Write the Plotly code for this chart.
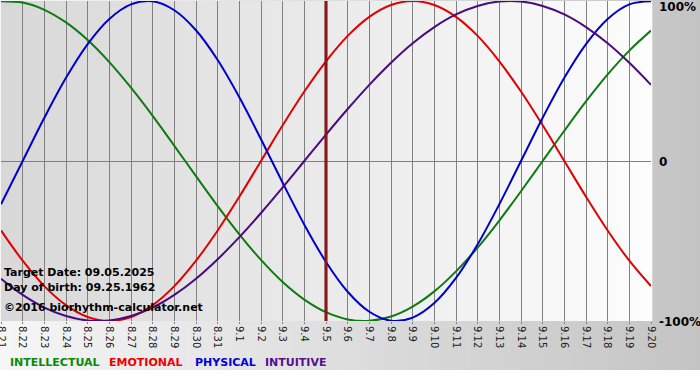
import plotly.graph_objects as go

days = ["8.21", "8.22", "8.23", "8.24", "8.25", "8.26", "8.27", "8.28", "8.29", "8.30",
        "8.31", "9.1", "9.2", "9.3", "9.4", "9.5", "9.6", "9.7", "9.8", "9.9",
        "9.10", "9.11", "9.12", "9.13", "9.14", "9.15", "9.16", "9.17", "9.18", "9.19", "9.20"]

physical = [-0.270, 0.000, 0.270, 0.520, 0.731, 0.888, 0.979, 0.998, 0.942, 0.817,
            0.631, 0.398, 0.136, -0.136, -0.398, -0.631, -0.817, -0.942, -0.998, -0.979,
            -0.888, -0.731, -0.520, -0.270, 0.000, 0.270, 0.520, 0.731, 0.888, 0.979, 0.998]

emotional = [-0.434, -0.623, -0.782, -0.901, -0.975, -1.000, -0.975, -0.901, -0.782, -0.623,
             -0.434, -0.223, 0.000, 0.223, 0.434, 0.623, 0.782, 0.901, 0.975, 1.000,
             0.975, 0.901, 0.782, 0.623, 0.434, 0.223, 0.000, -0.223, -0.434, -0.623, -0.782]

intellectual = [0.999, 0.990, 0.945, 0.866, 0.756, 0.618, 0.458, 0.282, 0.095, -0.095,
                -0.282, -0.458, -0.618, -0.756, -0.866, -0.945, -0.990, -0.999, -0.972, -0.910,
                -0.815, -0.690, -0.541, -0.372, -0.189, 0.000, 0.189, 0.372, 0.541, 0.690, 0.815]

intuitive = [-0.736, -0.837, -0.916, -0.969, -0.997, -0.997, -0.969, -0.916, -0.837, -0.736,
             -0.614, -0.476, -0.325, -0.165, 0.000, 0.165, 0.325, 0.476, 0.614, 0.736,
             0.837, 0.916, 0.969, 0.997, 0.997, 0.969, 0.916, 0.837, 0.736, 0.614, 0.476]

series_names = ["INTELLECTUAL", "EMOTIONAL", "PHYSICAL", "INTUITIVE"]
target_day = "9.5"
info_lines = ["Target Date: 09.05.2025", "Day of birth: 09.25.1962", "\u00a92016 biorhythm-calculator.net"]
y_labels = ["100%", "0", "-100%"]
y_vals = [1, 0, -1]

W, H = 700, 380
ML, MR, MT, MB = 1, 49, 1, 59
PW = W - ML - MR
PH = H - MT - MB

def px2paper_x(px):
    return (px - ML) / PW

def px2paper_y(py):
    return (H - MB - py) / PH

def grey(v):
    v = int(round(v))
    return f"rgb({v},{v},{v})"

shapes = []
# outer background gradient (figure area down to y=370)
N = 70
for k in range(N):
    x0 = W * k / N
    x1 = W * (k + 1) / N + 0.5
    t = (k + 0.5) / N
    shapes.append(dict(type="rect", xref="paper", yref="paper",
                       x0=px2paper_x(x0), x1=px2paper_x(x1),
                       y0=px2paper_y(370), y1=px2paper_y(0),
                       fillcolor=grey(246 - t * (246 - 196)), line_width=0, layer="below"))
# plot-area gradient
N2 = 65
for k in range(N2):
    t = (k + 0.5) / N2
    shapes.append(dict(type="rect", xref="paper", yref="paper",
                       x0=k / N2, x1=(k + 1) / N2 + 0.002, y0=0, y1=1,
                       fillcolor=grey(216 + t * (253 - 216)), line_width=0, layer="below"))

ti = days.index(target_day)
shapes.append(dict(type="line", xref="x", yref="paper", x0=ti, x1=ti, y0=0, y1=1,
                   line=dict(color="#5e0c0c", width=3), layer="above"))
shapes.append(dict(type="line", xref="x", yref="paper", x0=ti, x1=ti, y0=0, y1=1,
                   line=dict(color="#c81818", width=1), layer="above"))

fig = go.Figure()
line_colors = ["#0f7a0f", "#e00000", "#0000cc", "#4a0a80"]
for name, vals, col in zip(series_names, [intellectual, emotional, physical, intuitive], line_colors):
    fig.add_trace(go.Scatter(x=days, y=vals, mode="lines", name=name,
                             line=dict(color=col, width=2, shape="spline", smoothing=1.0),
                             hoverinfo="skip"))

annotations = []
legend_x = [8, 107, 193, 263]
text_colors = ["#0a8a0a", "#ee0000", "#0000dd", "#520f8f"]
for name, lx, col in zip(series_names, legend_x, text_colors):
    annotations.append(dict(text=f"<b>{name}</b>", xref="paper", yref="paper",
                            x=px2paper_x(lx), y=px2paper_y(362), xanchor="left", yanchor="middle",
                            showarrow=False, font=dict(family="DejaVu Sans", size=11, color=col)))

for txt, py in zip(info_lines, [272, 287, 307.5]):
    annotations.append(dict(text=f"<b>{txt}</b>", xref="paper", yref="paper",
                            x=px2paper_x(2), y=px2paper_y(py), xanchor="left", yanchor="middle",
                            showarrow=False, font=dict(family="DejaVu Sans", size=11, color="#000000")))

for lab, yv, ys in zip(y_labels, y_vals, [-6, -1, -1]):
    annotations.append(dict(text=f"<b>{lab}</b>", xref="paper", yref="y",
                            x=1, y=yv, xanchor="left", yanchor="middle", xshift=6, yshift=ys,
                            showarrow=False, font=dict(family="DejaVu Sans", size=12, color="#000000")))

fig.update_layout(
    width=W, height=H,
    margin=dict(l=ML, r=MR, t=MT, b=MB, pad=0, autoexpand=False),
    paper_bgcolor="#ffffff",
    plot_bgcolor="rgba(0,0,0,0)",
    showlegend=False,
    shapes=shapes,
    annotations=annotations,
    xaxis=dict(type="category", range=[0, len(days) - 1], showgrid=True,
               gridcolor="#808080", gridwidth=1, tickangle=90, automargin=False,
               tickfont=dict(family="DejaVu Sans", size=10, color="#222222"),
               ticks="outside", ticklen=2, tickcolor="#808080",
               showline=False, zeroline=False, fixedrange=True),
    yaxis=dict(range=[-1, 1], tickvals=y_vals, showticklabels=False, showgrid=True,
               gridcolor="#808080", gridwidth=1, zeroline=False, showline=False,
               automargin=False, fixedrange=True),
)

fig.write_html("out.html", config={"displayModeBar": False},
               post_script="document.body.style.margin='0';document.body.style.overflow='hidden';")
